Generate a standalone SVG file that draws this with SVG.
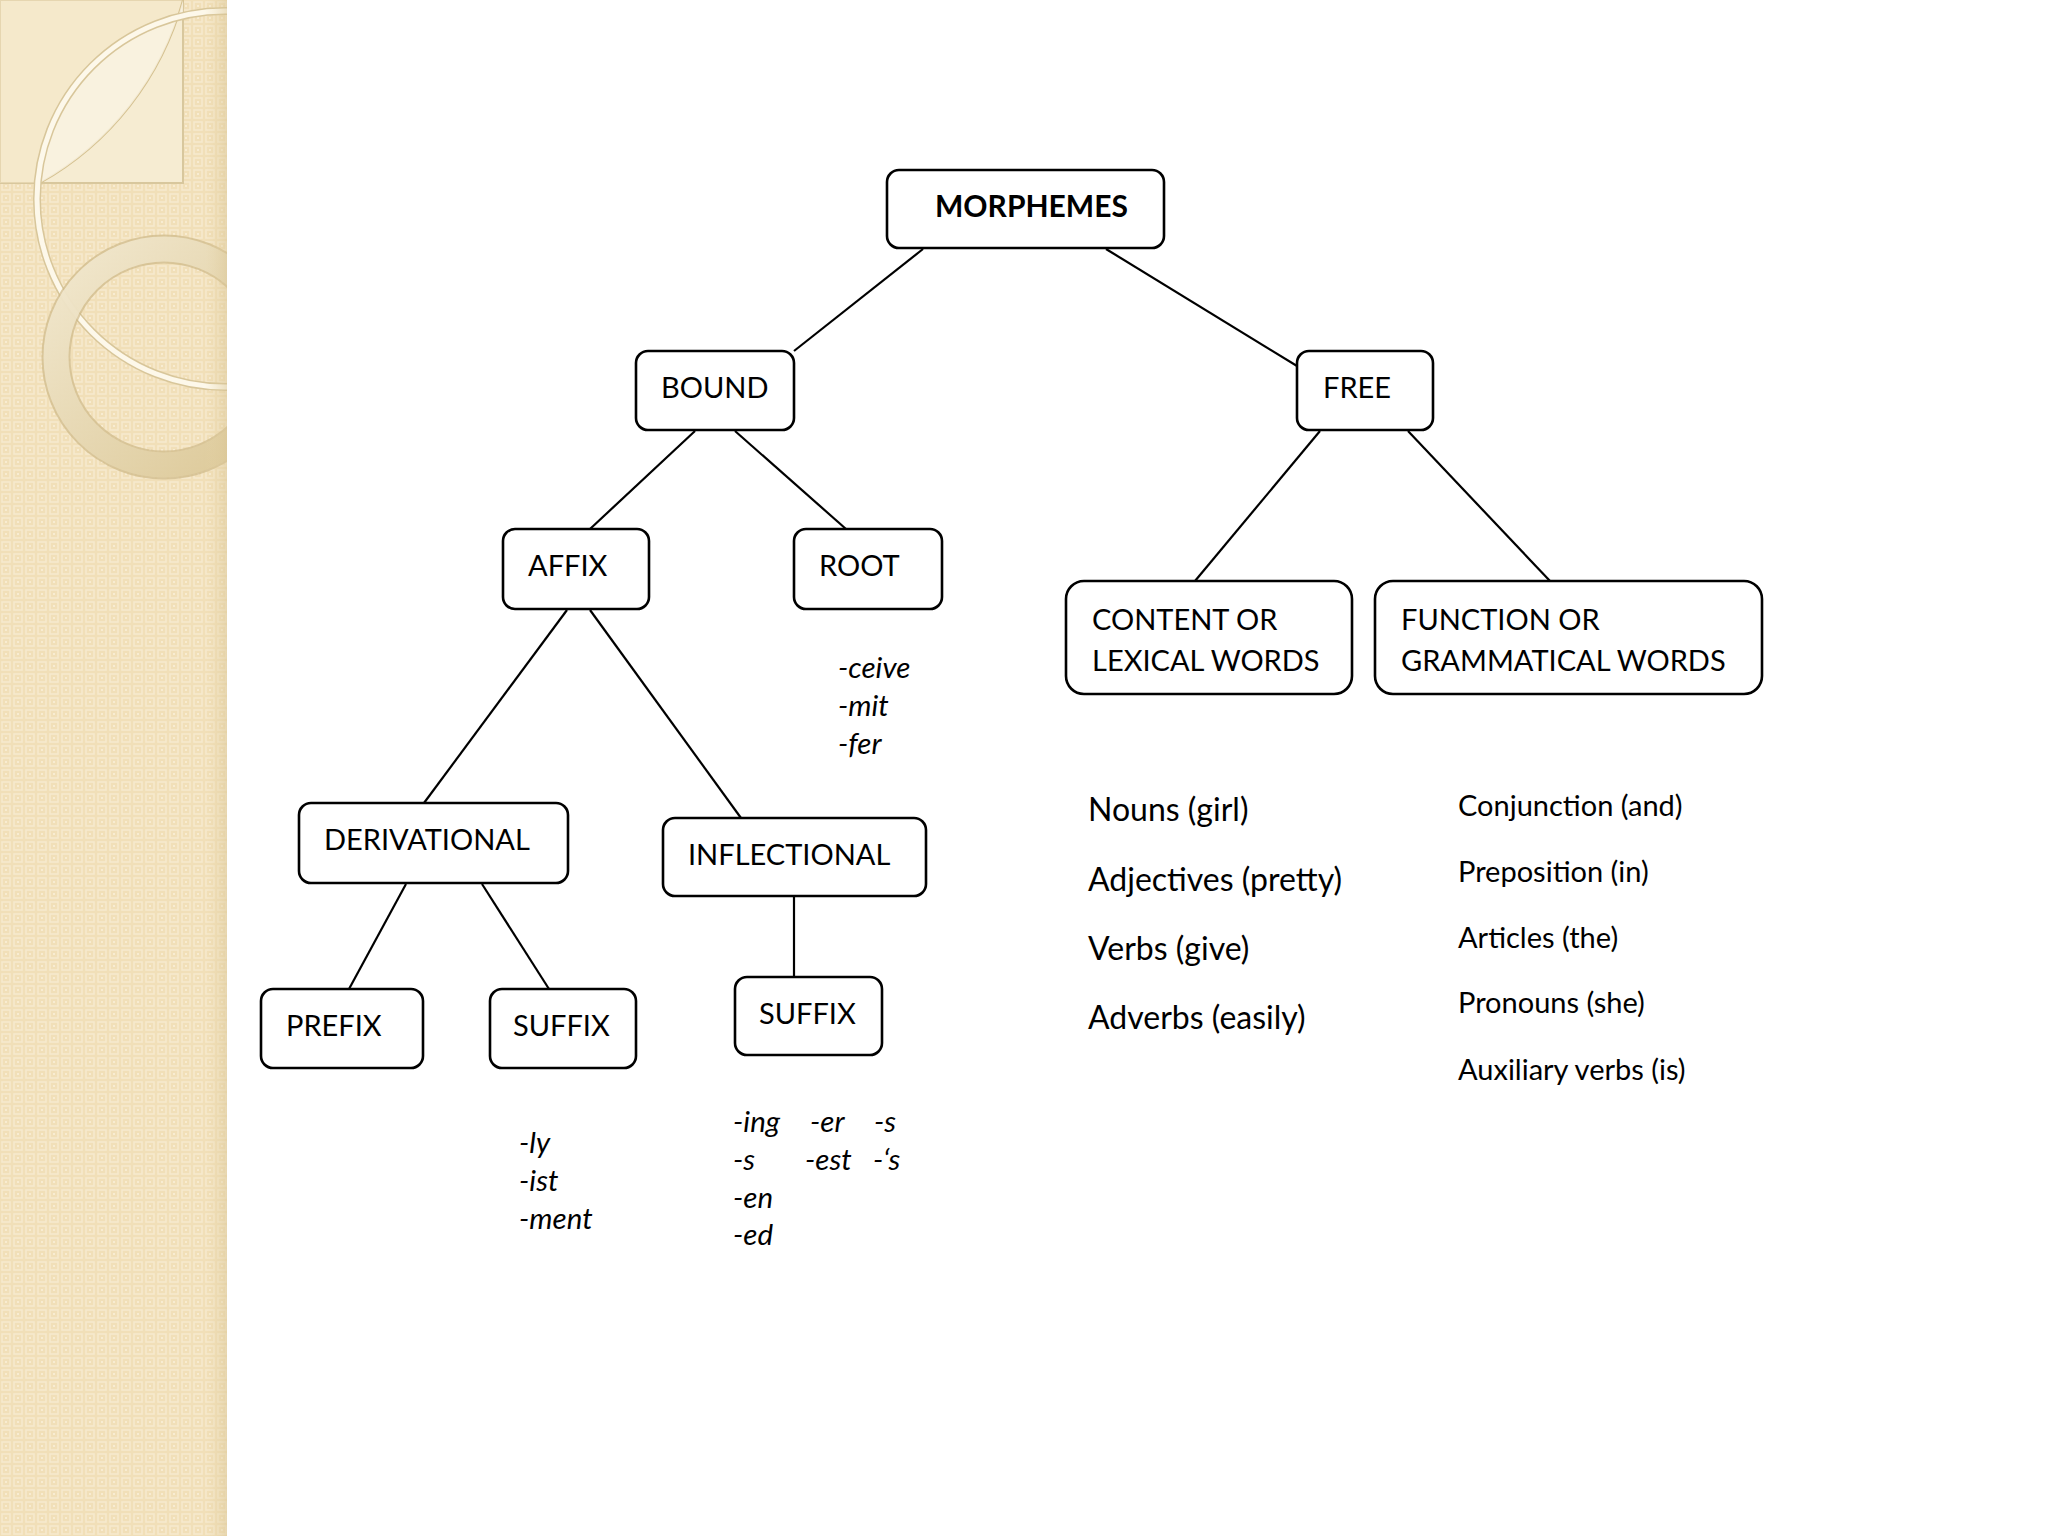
<svg xmlns="http://www.w3.org/2000/svg" width="2048" height="1536" viewBox="0 0 2048 1536">
<defs>
<style>
.box{fill:#fff;stroke:#000;stroke-width:2.6}
.t{font-family:Lato,"Open Sans",sans-serif;font-size:29px;fill:#000}
.b{font-weight:bold;font-size:30px}
.i{font-family:Lato,"Open Sans",sans-serif;font-size:29.5px;font-style:italic;fill:#000}
.l{font-family:Lato,"Open Sans",sans-serif;font-size:32px;fill:#000}
.r{font-family:Lato,"Open Sans",sans-serif;font-size:29px;fill:#000}
.c line{stroke:#000;stroke-width:2.2}
</style>
<pattern id="grid" width="12" height="12" patternUnits="userSpaceOnUse">
<rect width="12" height="12" fill="#f1dfb8"/>
<rect x="2" y="2" width="8" height="8" fill="none" stroke="#f7eacd" stroke-width="1.6"/>
<rect x="5" y="5" width="2" height="2" fill="#f8ecd2"/>
</pattern>
<linearGradient id="edge" x1="0" x2="1" y1="0" y2="0">
<stop offset="0" stop-color="#e8d6a8" stop-opacity="0"/>
<stop offset="1" stop-color="#d9c595" stop-opacity="0.5"/>
</linearGradient>
<linearGradient id="ring2" x1="0" y1="0" x2="1" y2="1">
<stop offset="0" stop-color="#f6eed8"/>
<stop offset="1" stop-color="#dcc896"/>
</linearGradient>
<clipPath id="strip"><rect x="0" y="0" width="227" height="1536"/></clipPath>
</defs>
<rect width="2048" height="1536" fill="#fff"/>
<g id="background" clip-path="url(#strip)">
<rect x="0" y="0" width="227" height="1536" fill="url(#grid)"/>
<rect x="0" y="0" width="183" height="183" fill="#f6ecd2" stroke="#d8c79d" stroke-width="2"/>
<path d="M183,0 A300,300 0 0 1 40,183 L0,183 L0,0 Z" fill="#f3e6c4" opacity="0.5"/>
<path d="M183,0 A300,300 0 0 1 40,183" fill="none" stroke="#d5c190" stroke-width="2"/>
<path d="M183,0 A300,300 0 0 1 40,183 A188,188 0 0 1 183,15 Z" fill="#faf4e4" opacity="0.8"/>
<circle cx="225" cy="199" r="188" fill="none" stroke="#d8c69a" stroke-width="8"/>
<circle cx="225" cy="199" r="188" fill="none" stroke="#fdf8ea" stroke-width="5"/>
<circle cx="164" cy="357" r="108" fill="none" stroke="#cdb888" stroke-width="29" opacity="0.7"/>
<circle cx="164" cy="357" r="108" fill="none" stroke="url(#ring2)" stroke-width="25" opacity="0.85"/>
<rect x="205" y="0" width="22" height="1536" fill="url(#edge)"/>
</g>
<g class="c" id="connectors">
<line x1="923" y1="249" x2="794" y2="351"/>
<line x1="1106" y1="249" x2="1297" y2="366"/>
<line x1="695" y1="431" x2="590" y2="529"/>
<line x1="735" y1="431" x2="846" y2="529"/>
<line x1="1320" y1="431" x2="1195" y2="581"/>
<line x1="1408" y1="431" x2="1550" y2="581"/>
<line x1="567" y1="610" x2="424" y2="803"/>
<line x1="590" y1="610" x2="741" y2="818"/>
<line x1="406" y1="884" x2="349" y2="989"/>
<line x1="482" y1="884" x2="549" y2="989"/>
<line x1="794" y1="897" x2="794" y2="977"/>
</g>
<g id="morphemes"><rect class="box" x="887" y="170" width="277" height="78" rx="12"/><text class="t b" x="935" y="217">MORPHEMES</text></g>
<g id="bound"><rect class="box" x="636" y="351" width="158" height="79" rx="12"/><text class="t" x="661" y="398">BOUND</text></g>
<g id="free"><rect class="box" x="1297" y="351" width="136" height="79" rx="12"/><text class="t" x="1323" y="398">FREE</text></g>
<g id="affix"><rect class="box" x="503" y="529" width="146" height="80" rx="12"/><text class="t" x="528" y="576">AFFIX</text></g>
<g id="root"><rect class="box" x="794" y="529" width="148" height="80" rx="12"/><text class="t" x="819" y="576">ROOT</text></g>
<g id="content"><rect class="box" x="1066" y="581" width="286" height="113" rx="18"/><text class="t" x="1092" y="630">CONTENT OR</text><text class="t" x="1092" y="671">LEXICAL WORDS</text></g>
<g id="function"><rect class="box" x="1375" y="581" width="387" height="113" rx="18"/><text class="t" x="1401" y="630">FUNCTION OR</text><text class="t" x="1401" y="671">GRAMMATICAL WORDS</text></g>
<g id="derivational"><rect class="box" x="299" y="803" width="269" height="80" rx="12"/><text class="t" x="324" y="850">DERIVATIONAL</text></g>
<g id="inflectional"><rect class="box" x="663" y="818" width="263" height="78" rx="12"/><text class="t" x="688" y="865">INFLECTIONAL</text></g>
<g id="prefix"><rect class="box" x="261" y="989" width="162" height="79" rx="12"/><text class="t" x="286" y="1036">PREFIX</text></g>
<g id="suffix-deriv"><rect class="box" x="490" y="989" width="146" height="79" rx="12"/><text class="t" x="513" y="1036">SUFFIX</text></g>
<g id="suffix-infl"><rect class="box" x="735" y="977" width="147" height="78" rx="12"/><text class="t" x="759" y="1024">SUFFIX</text></g>
<g id="root-examples">
<text class="i" x="838" y="678">-ceive</text>
<text class="i" x="838" y="716">-mit</text>
<text class="i" x="838" y="754">-fer</text>
</g>
<g id="deriv-examples">
<text class="i" x="519" y="1153">-ly</text>
<text class="i" x="519" y="1191">-ist</text>
<text class="i" x="519" y="1229">-ment</text>
</g>
<g id="infl-examples">
<text class="i" x="733" y="1132">-ing</text>
<text class="i" x="733" y="1170">-s</text>
<text class="i" x="733" y="1208">-en</text>
<text class="i" x="733" y="1245">-ed</text>
<text class="i" x="810" y="1132">-er</text>
<text class="i" x="805" y="1170">-est</text>
<text class="i" x="874" y="1132">-s</text>
<text class="i" x="873" y="1170">-‘s</text>
</g>
<g id="content-list">
<text class="l" x="1088" y="821">Nouns (girl)</text>
<text class="l" x="1088" y="891">Adjectives (pretty)</text>
<text class="l" x="1088" y="960">Verbs (give)</text>
<text class="l" x="1088" y="1029">Adverbs (easily)</text>
</g>
<g id="function-list">
<text class="r" x="1458" y="816">Conjunction (and)</text>
<text class="r" x="1458" y="882">Preposition (in)</text>
<text class="r" x="1458" y="948">Articles (the)</text>
<text class="r" x="1458" y="1013">Pronouns (she)</text>
<text class="r" x="1458" y="1080">Auxiliary verbs (is)</text>
</g>
</svg>
